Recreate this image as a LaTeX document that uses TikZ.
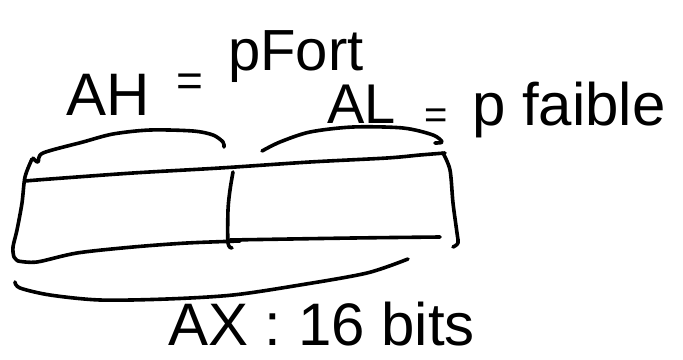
\documentclass[tikz,border=0pt]{standalone}
\usepackage{fontspec}
\setmainfont{Liberation Sans}
\begin{document}
\begin{tikzpicture}[x=1pt,y=-1pt,
  ink/.style={line width=3.6pt,line cap=round,line join=round,black},
  hand/.style={inner sep=0pt,anchor=base west,font=\fontsize{#1}{#1}\selectfont}]
\useasboundingbox[fill=white] (0,0) rectangle (683,359);
% box outline
\draw[ink] plot[smooth,tension=0.5] coordinates {(32,159) (25,177) (22,203) (17,230) (13,247) (14,257) (18,261)};
\draw[ink] plot[smooth,tension=0.5] coordinates {(18,261) (37,262) (77,253) (133,247) (187,243) (240,241)};
\draw[ink] plot[smooth,tension=0.5] coordinates {(230,240) (353,238) (440,237)};
\draw[ink] plot[smooth,tension=0.5] coordinates {(25,181) (50,179) (133,173) (220,168) (310,162) (387,158) (420,155) (445,153)};
\draw[ink] plot[smooth,tension=0.5] coordinates {(443,153) (450,170) (453,203) (457,233) (458,243) (453,247)};
\draw[ink] plot[smooth,tension=0.5] coordinates {(233,172) (230,190) (228,210) (228,243) (232,248)};
% braces
\draw[ink] plot[smooth,tension=0.5] coordinates {(33,158) (38,162) (43,153) (83,142) (113,134) (150,130) (193,131) (213,135) (223,142) (224,147)};
\draw[ink] plot[smooth,tension=0.5] coordinates {(262,151) (280,142) (310,132) (353,127) (403,128) (433,135) (442,142) (435,143)};
\draw[ink] plot[smooth,tension=0.5] coordinates {(15,282) (20,288) (50,295) (100,300) (167,299) (233,295) (300,285) (367,273) (408,259)};
% texts
\node[hand=60] (ah) at (66,115) {AH};
\node[hand=46] (eq1) at (176,96) {=};
\node[hand=58] (pfort) at (228,70) {pFort};
\node[hand=56] (al) at (327,123) {AL};
\node[hand=40] (eq2) at (424,128) {=};
\node[hand=60] (pfaible) at (472,125) {p faible};
\node[hand=60] (ax) at (168,345) {AX : 16 bits};
\end{tikzpicture}
\end{document}
